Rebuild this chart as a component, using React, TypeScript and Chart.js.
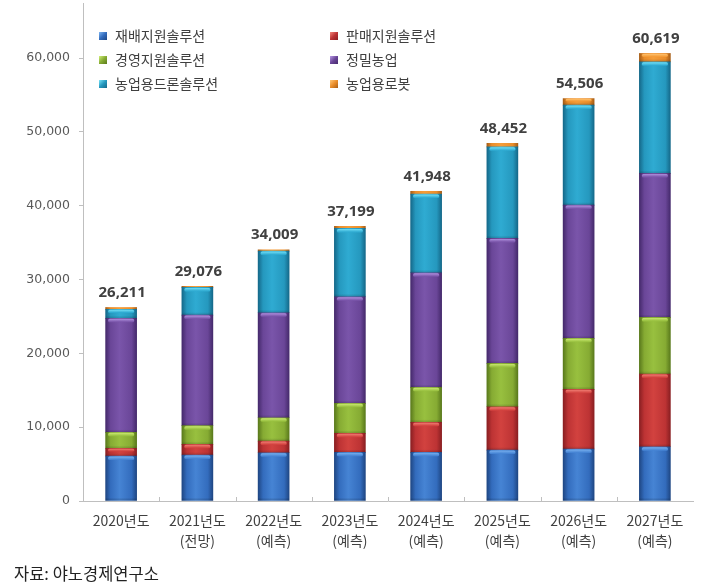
import { useEffect, useRef } from 'react';
import { Chart, registerables } from 'chart.js';

Chart.register(...registerables);

// ---------- data ----------
const categories: string[][] = [
  ['2020년도'],
  ['2021년도', '(전망)'],
  ['2022년도', '(예측)'],
  ['2023년도', '(예측)'],
  ['2024년도', '(예측)'],
  ['2025년도', '(예측)'],
  ['2026년도', '(예측)'],
  ['2027년도', '(예측)'],
];

const seriesNames = [
  '재배지원솔루션',
  '판매지원솔루션',
  '경영지원솔루션',
  '정밀농업',
  '농업용드론솔루션',
  '농업용로봇',
];

const cultivationSupport = [6090, 6230, 6540, 6590, 6600, 6900, 7040, 7350];
const salesSupport = [1040, 1450, 1580, 2580, 4060, 5870, 8080, 9850];
const managementSupport = [2170, 2520, 3160, 4060, 4730, 5870, 6910, 7670];
const precisionFarming = [15440, 14980, 14220, 14430, 15520, 16930, 18050, 19500];
const droneSolutions = [1220, 3750, 8350, 9260, 10660, 12400, 13540, 15110];
const farmRobots = [251, 146, 159, 279, 378, 482, 886, 1139];

const totals = [26211, 29076, 34009, 37199, 41948, 48452, 54506, 60619];

const yTickValues = [0, 10000, 20000, 30000, 40000, 50000, 60000];

const sourceText = '자료: 야노경제연구소';

// ---------- styles ----------
const PALETTE = [
  { edge: '#1f4784', base: '#336cbd', light: '#4684d4', hi: '#7fb6f2' },
  { edge: '#8a1f22', base: '#bd3334', light: '#d2423f', hi: '#f4867a' },
  { edge: '#5a7a1c', base: '#86ab33', light: '#98c03f', hi: '#d2f07a' },
  { edge: '#452a6c', base: '#6a4698', light: '#7a55aa', hi: '#b89ae6' },
  { edge: '#15698a', base: '#2598be', light: '#2fabd2', hi: '#7ce6fa' },
  { edge: '#a85e16', base: '#ea8d2a', light: '#f59d38', hi: '#ffc97a' },
];

const BAR_W = 31;
const AXIS_COLOR = '#bfbfbf';
const TEXT_COLOR = '#404040';

function barFill(di: number) {
  const pal = PALETTE[di];
  return (ctx: any) => {
    const chart = ctx.chart;
    const xs = chart.scales && chart.scales.x;
    if (!xs || ctx.type !== 'data') return pal.base;
    const cx = xs.getPixelForValue(ctx.dataIndex);
    if (!Number.isFinite(cx)) return pal.base;
    const w = BAR_W / 2;
    const g = chart.ctx.createLinearGradient(cx - w, 0, cx + w, 0);
    g.addColorStop(0, pal.edge);
    g.addColorStop(0.16, pal.base);
    g.addColorStop(0.45, pal.light);
    g.addColorStop(0.84, pal.base);
    g.addColorStop(1, pal.edge);
    return g;
  };
}

const decorPlugin = {
  id: 'decor',
  afterDatasetsDraw(chart: any) {
    const c: CanvasRenderingContext2D = chart.ctx;
    const area = chart.chartArea;
    c.save();
    // segment highlights / shading
    chart.data.datasets.forEach((_ds: any, di: number) => {
      const meta = chart.getDatasetMeta(di);
      const pal = PALETTE[di];
      meta.data.forEach((el: any) => {
        const { x, y, base, width } = el.getProps(['x', 'y', 'base', 'width'], true);
        if (![x, y, base, width].every((v) => Number.isFinite(v))) return;
        const h = base - y;
        if (h < 4) return;
        const gb = c.createLinearGradient(0, base - 3, 0, base);
        gb.addColorStop(0, 'rgba(0,0,0,0)');
        gb.addColorStop(1, 'rgba(0,0,0,0.18)');
        c.fillStyle = gb;
        c.fillRect(x - width / 2, base - 3, width, 3);
        const bh = Math.min(3.5, h * 0.35);
        const g = c.createLinearGradient(0, y, 0, y + bh);
        g.addColorStop(0, pal.hi);
        g.addColorStop(1, pal.light);
        c.fillStyle = g;
        c.beginPath();
        if ((c as any).roundRect) (c as any).roundRect(x - width / 2 + 2.5, y + 0.5, width - 5, bh, 1.5);
        else c.rect(x - width / 2 + 2.5, y + 0.5, width - 5, bh);
        c.fill();
      });
    });

    // x-axis boundary ticks (pointing up)
    const xs = chart.scales.x;
    c.strokeStyle = AXIS_COLOR;
    c.lineWidth = 1;
    for (let i = 1; i < categories.length; i++) {
      const px = Math.round((xs.getPixelForValue(i - 1) + xs.getPixelForValue(i)) / 2) + 0.5;
      c.beginPath();
      c.moveTo(px, area.bottom);
      c.lineTo(px, area.bottom - 4);
      c.stroke();
    }

    // totals
    const ys = chart.scales.y;
    c.fillStyle = TEXT_COLOR;
    c.font = 'bold 15px "Noto Sans", "Liberation Sans", sans-serif';
    c.textAlign = 'center';
    c.textBaseline = 'middle';
    totals.forEach((t, i) => {
      const sum = chart.data.datasets.reduce((s: number, ds: any) => s + ds.data[i], 0);
      const px = xs.getPixelForValue(i);
      const py = ys.getPixelForValue(sum);
      c.fillText(t.toLocaleString('en-US'), px + 1, py - 15);
    });

    // legend (two columns inside plot)
    const left = area.left + 16;
    const colGap = 231;
    const top = area.top + 33;
    const rowGap = 24;
    c.font = '14px "Noto Sans CJK KR", sans-serif';
    c.textAlign = 'left';
    c.textBaseline = 'middle';
    chart.data.datasets.forEach((ds: any, di: number) => {
      const pal = PALETTE[di];
      const col = di % 2;
      const row = Math.floor(di / 2);
      const bx = left + col * colGap;
      const by = top + row * rowGap;
      const s = 8;
      const g = c.createLinearGradient(bx, by - s / 2, bx + s, by + s / 2);
      g.addColorStop(0, pal.hi);
      g.addColorStop(0.5, pal.base);
      g.addColorStop(1, pal.edge);
      c.fillStyle = g;
      c.fillRect(bx, by - s / 2, s, s);
      c.fillStyle = TEXT_COLOR;
      c.fillText(ds.label, bx + 16, by);
    });
    c.restore();
  },
};

export default function App() {
  const ref = useRef<HTMLCanvasElement | null>(null);

  useEffect(() => {
    if (!ref.current) return;
    const seriesValues = [
      cultivationSupport,
      salesSupport,
      managementSupport,
      precisionFarming,
      droneSolutions,
      farmRobots,
    ];
    const chart = new Chart(ref.current, {
      type: 'bar',
      data: {
        labels: categories,
        datasets: seriesValues.map((vals, di) => ({
          label: seriesNames[di],
          data: vals,
          backgroundColor: barFill(di),
          borderWidth: 0,
          barThickness: BAR_W,
          stack: 'total',
        })),
      },
      options: {
        animation: false,
        responsive: false,
        layout: { padding: { left: 0, right: 30, top: 3, bottom: 0 } },
        plugins: {
          legend: { display: false },
          tooltip: { enabled: false },
        },
        scales: {
          x: {
            stacked: true,
            grid: { display: false },
            border: { display: true, color: AXIS_COLOR, width: 1 },
            ticks: {
              color: TEXT_COLOR,
              padding: 2,
              font: { family: '"Noto Sans CJK KR", sans-serif', size: 14, lineHeight: 1.4 },
              maxRotation: 0,
              autoSkip: false,
            },
            afterFit: (scale: any) => {
              scale.height = 87;
              scale.paddingLeft = 0;
              scale.paddingRight = 0;
            },
          },
          y: {
            stacked: true,
            min: 0,
            max: 67450,
            afterBuildTicks: (scale: any) => {
              scale.ticks = yTickValues.map((v) => ({ value: v }));
            },
            grid: {
              drawOnChartArea: false,
              drawTicks: true,
              tickLength: 4,
              color: AXIS_COLOR,
            },
            border: { display: true, color: AXIS_COLOR, width: 1 },
            ticks: {
              color: '#595959',
              padding: 9,
              font: { family: '"DejaVu Sans", sans-serif', size: 12.5 },
              callback: (v: any) => Number(v).toLocaleString('en-US'),
            },
            afterFit: (scale: any) => {
              scale.width = 83;
              scale.paddingTop = 0;
              scale.paddingBottom = 0;
            },
          },
        },
      },
      plugins: [decorPlugin],
    });
    return () => chart.destroy();
  }, []);

  return (
    <div style={{ position: 'absolute', left: 0, top: 0, width: 723, height: 588, background: '#fff' }}>
      <canvas ref={ref} width={723} height={588} style={{ width: 723, height: 588, display: 'block' }} />
      <div
        style={{
          position: 'absolute',
          left: 14,
          top: 562,
          fontFamily: '"Noto Sans CJK KR", sans-serif',
          fontSize: 16.5,
          lineHeight: '22px',
          color: '#222',
          whiteSpace: 'nowrap',
        }}
      >
        {sourceText}
      </div>
    </div>
  );
}
